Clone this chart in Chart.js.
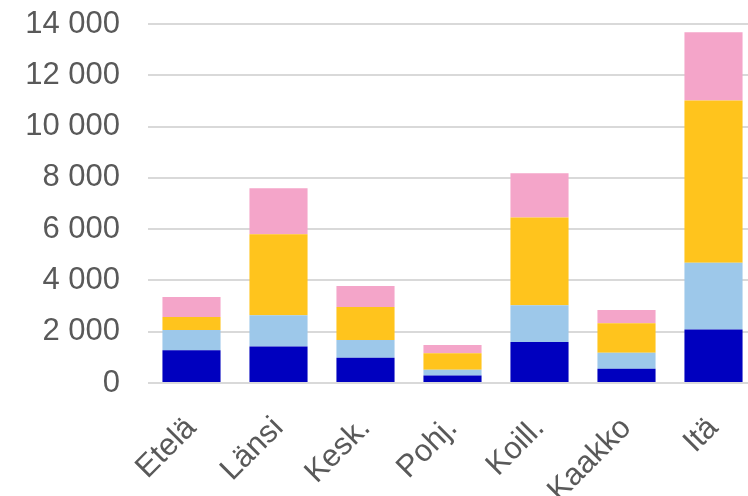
<!DOCTYPE html>
<html>
<head>
<meta charset="utf-8">
<script src="https://cdn.jsdelivr.net/npm/chart.js@4"></script>
<style>
html,body{margin:0;padding:0;overflow:hidden;background:#fff;width:748px;height:496px;}
#wrap{position:absolute;left:0;top:0;width:757px;height:496px;}
</style>
</head>
<body>
<div id="wrap"><canvas id="c" width="757" height="496"></canvas></div>
<script>
const categories = ["Etelä", "Länsi", "Kesk.", "Pohj.", "Koill.", "Kaakko", "Itä"];
const series1 = [1280, 1420, 980, 290, 1600, 560, 2090];
const series2 = [790, 1220, 700, 230, 1430, 620, 2600];
const series3 = [500, 3160, 1280, 640, 3420, 1150, 6330];
const series4 = [780, 1790, 820, 320, 1730, 520, 2660];
const seriesNames = ["Sarja 1", "Sarja 2", "Sarja 3", "Sarja 4"];
const colors = ["#0000BF", "#9DC8EA", "#FFC41D", "#F4A5C9"];
const yTicks = [0, 2000, 4000, 6000, 8000, 10000, 12000, 14000];

const fmt = v => String(v).replace(/\B(?=(\d{3})+(?!\d))/g, ' ');
const FONT = 'Liberation Sans, Arial, sans-serif';

new Chart(document.getElementById('c'), {
  type: 'bar',
  data: {
    labels: categories,
    datasets: [series1, series2, series3, series4].map((d, i) => ({
      label: seriesNames[i],
      data: d,
      backgroundColor: colors[i],
      borderWidth: 0,
      barPercentage: 1,
      categoryPercentage: 0.668
    }))
  },
  options: {
    responsive: false,
    animation: false,
    layout: { padding: { left: 0, top: 24, right: 0, bottom: 0 } },
    plugins: { legend: { display: false }, tooltip: { enabled: false } },
    scales: {
      x: {
        stacked: true,
        grid: { display: false, drawTicks: false },
        border: { display: false },
        afterFit: s => { s.height = 113; s.paddingLeft = 0; s.paddingRight = 0; },
        ticks: {
          color: '#595959',
          font: { family: FONT, size: 31 },
          minRotation: 45, maxRotation: 45,
          padding: 27,
          labelOffset: 0
        }
      },
      y: {
        stacked: true,
        min: 0, max: 14000,
        afterBuildTicks: s => { s.ticks = yTicks.map(v => ({ value: v })); },
        afterFit: s => { s.width = 148; s.paddingTop = 0; s.paddingBottom = 0; },
        grid: { color: '#D9D9D9', lineWidth: 2, drawTicks: false },
        border: { display: false },
        ticks: {
          color: '#595959',
          font: { family: FONT, size: 31 },
          padding: 28,
          callback: v => fmt(v)
        }
      }
    }
  }
});
</script>
</body>
</html>
